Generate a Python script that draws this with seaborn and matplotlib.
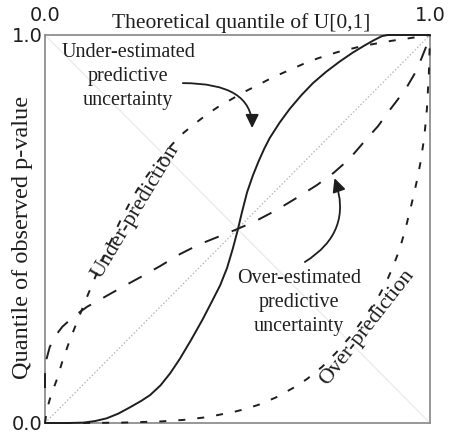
import matplotlib
matplotlib.use("Agg")
import matplotlib.pyplot as plt
import seaborn as sns
import pandas as pd

# Probability-integral-transform (PIT) quantile curves
solid_x = [0.0, 0.06, 0.10, 0.13, 0.16, 0.19, 0.22, 0.25, 0.273, 0.30, 0.325, 0.35,
           0.38, 0.41, 0.436, 0.455, 0.473, 0.488, 0.50, 0.512, 0.525, 0.54, 0.555,
           0.57, 0.584, 0.61, 0.636, 0.666, 0.696, 0.73, 0.766, 0.80, 0.83, 0.855,
           0.875, 0.89, 1.0]
solid_y = [0.0, 0.0, 0.001, 0.005, 0.012, 0.024, 0.04, 0.057, 0.072, 0.097, 0.128,
           0.165, 0.215, 0.268, 0.318, 0.355, 0.40, 0.45, 0.495, 0.545, 0.595, 0.638,
           0.675, 0.708, 0.735, 0.775, 0.81, 0.845, 0.876, 0.905, 0.932, 0.955, 0.973,
           0.987, 0.997, 1.0, 1.0]

wide_x = [0.0, 0.0, 0.004, 0.012, 0.025, 0.045, 0.075, 0.11, 0.15, 0.2, 0.25, 0.3,
          0.35, 0.4, 0.45, 0.5, 0.55, 0.6, 0.65, 0.706, 0.75, 0.79, 0.836, 0.865,
          0.888, 0.915, 0.94, 0.96, 0.978, 0.992, 1.0]
wide_y = [0.09, 0.13, 0.165, 0.195, 0.222, 0.248, 0.275, 0.3, 0.322, 0.35, 0.377,
          0.405, 0.435, 0.46, 0.48, 0.5, 0.522, 0.548, 0.578, 0.613, 0.645, 0.68,
          0.733, 0.765, 0.797, 0.832, 0.866, 0.9, 0.94, 0.975, 1.0]

under_x = [0.0, 0.005, 0.015, 0.03, 0.047, 0.065, 0.083, 0.105, 0.13, 0.16, 0.195,
           0.22, 0.242, 0.265, 0.286, 0.31, 0.332, 0.36, 0.39, 0.42, 0.45, 0.48,
           0.515, 0.551, 0.59, 0.631, 0.67, 0.709, 0.76, 0.826, 0.9, 0.948, 1.0]
under_y = [0.0, 0.035, 0.07, 0.11, 0.165, 0.215, 0.26, 0.315, 0.375, 0.445, 0.52,
           0.567, 0.605, 0.637, 0.665, 0.695, 0.72, 0.748, 0.772, 0.795, 0.815, 0.832,
           0.852, 0.87, 0.89, 0.908, 0.925, 0.94, 0.956, 0.972, 0.985, 0.992, 1.0]

over_x = [0.0, 0.1, 0.2, 0.3, 0.36, 0.42, 0.488, 0.52, 0.558, 0.6, 0.644, 0.68,
          0.72, 0.755, 0.792, 0.825, 0.862, 0.885, 0.904, 0.92, 0.935, 0.953, 0.965,
          0.975, 0.985, 0.992, 0.997, 1.0]
over_y = [0.0, 0.0, 0.001, 0.004, 0.008, 0.015, 0.028, 0.036, 0.048, 0.066, 0.09,
          0.113, 0.145, 0.18, 0.222, 0.265, 0.318, 0.36, 0.403, 0.445, 0.495, 0.568,
          0.62, 0.67, 0.735, 0.81, 0.9, 1.0]

tick_vals = [0.0, 1.0]
tick_labels = ["0.0", "1.0"]

sns.set_style("white")
serif = ["Liberation Serif", "DejaVu Serif"]
ink = "#1e1e1e"

fig = plt.figure(figsize=(4.57, 4.37), dpi=100)
ax = fig.add_axes([45 / 457, 14 / 437, 385 / 457, 388 / 437])

# reference diagonals
ref = pd.DataFrame({"x": [0.0, 1.0], "y": [0.0, 1.0], "ay": [1.0, 0.0]})
sns.lineplot(data=ref, x="x", y="ay", ax=ax, color="#ececec", linewidth=1.0, zorder=1)
sns.lineplot(data=ref, x="x", y="y", ax=ax, color="#b5b5b5", linewidth=0.9,
             linestyle=(0, (1.2, 1.6)), zorder=1)

curve_style = dict(ax=ax, color=ink, linewidth=1.4, sort=False, estimator=None,
                   zorder=3, clip_on=False)
sns.lineplot(x=solid_x, y=solid_y, linestyle="-", **curve_style)
sns.lineplot(x=wide_x, y=wide_y, linestyle=(0, (7.7, 7.2)), **curve_style)
sns.lineplot(x=under_x, y=under_y, linestyle=(0, (3.6, 6.2)), **curve_style)
sns.lineplot(x=over_x, y=over_y, linestyle=(0, (3.6, 6.2)), **curve_style)

ax.set_xlim(0, 1)
ax.set_ylim(0, 1)
ax.xaxis.tick_top()
ax.set_xticks(tick_vals, tick_labels)
ax.set_yticks(tick_vals, tick_labels)
ax.tick_params(axis="x", length=0, pad=7, labelsize=14, colors=ink)
ax.tick_params(axis="y", length=0, pad=1.5, labelsize=14, colors=ink)
for lab in ax.get_xticklabels() + ax.get_yticklabels():
    lab.set_fontfamily("DejaVu Sans")

for sp in ax.spines.values():
    sp.set_color("#8f8f8f")
    sp.set_linewidth(1.3)

ax.set_xlabel("Theoretical quantile of U[0,1]", family=serif, fontsize=15.5, color=ink)
ax.xaxis.set_label_position("top")
ax.xaxis.set_label_coords(0.51, 1.018)
ax.set_ylabel("Quantile of observed p-value", family=serif, fontsize=17.5, color=ink)
ax.yaxis.set_label_coords(-0.03, 0.479)

note_kw = dict(family=serif, fontsize=14.5, color=ink, ha="center", va="center",
               linespacing=1.35, transform=ax.transAxes)
ax.text(0.216, 0.894, "Under-estimated\npredictive\nuncertainty", **note_kw)
ax.text(0.66, 0.31, "Over-estimated\npredictive\nuncertainty", **note_kw)
note_kw["fontsize"] = 16
ax.text(0.236, 0.545, "Under-prediction", rotation=59, **note_kw)
ax.text(0.836, 0.245, "Over-prediction", rotation=52, **note_kw)

arrow_kw = dict(arrowstyle="-|>,head_length=0.45,head_width=0.22", color=ink,
                lw=1.3, mutation_scale=18, shrinkA=0, shrinkB=0)
ax.annotate("", xy=(0.538, 0.76), xytext=(0.358, 0.876), xycoords="axes fraction",
            arrowprops=dict(connectionstyle="angle3,angleA=0,angleB=90", **arrow_kw))
ax.annotate("", xy=(0.752, 0.631), xytext=(0.675, 0.415), xycoords="axes fraction",
            arrowprops=dict(connectionstyle="arc3,rad=0.4", **arrow_kw))

fig.savefig("out.png", dpi=100)
